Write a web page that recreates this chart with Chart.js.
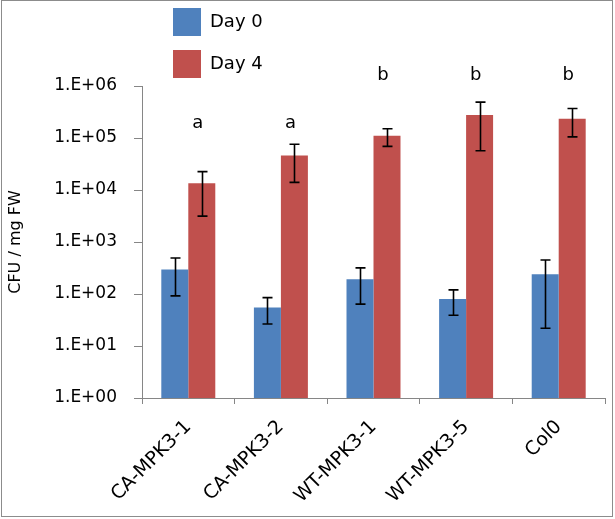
<!DOCTYPE html>
<html>
<head>
<meta charset="utf-8">
<script src="https://cdn.jsdelivr.net/npm/chart.js@4/dist/chart.umd.min.js"></script>
<style>
  html, body { margin: 0; padding: 0; background: #fff; }
  #wrap { width: 615px; height: 519px; position: relative; }
</style>
</head>
<body>
<div id="wrap"><canvas id="c" width="615" height="519"></canvas></div>
<script>
// ---- data ----
const categories = ['CA-MPK3-1', 'CA-MPK3-2', 'WT-MPK3-1', 'WT-MPK3-5', 'Col0'];
const seriesNames = ['Day 0', 'Day 4'];
const day0 = [295, 55, 193, 80, 240];
const day0Hi = [493, 85, 318, 120, 452];
const day0Lo = [92, 26.5, 64, 39, 22];
const day4 = [13500, 45900, 110000, 276000, 234000];
const day4Hi = [22600, 75600, 151000, 490000, 370000];
const day4Lo = [3150, 14000, 69000, 57000, 105000];
const sigLetters = ['a', 'a', 'b', 'b', 'b'];
const sigLevel = [157000, 157000, 1310000, 1310000, 1310000];
const yTickValues = [1, 10, 100, 1000, 10000, 100000, 1000000];
const yTickLabels = ['1.E+00', '1.E+01', '1.E+02', '1.E+03', '1.E+04', '1.E+05', '1.E+06'];

const FONT = "'DejaVu Sans', sans-serif";
const AXIS_GRAY = '#868686';
const colors = ['#4F81BD', '#C0504D'];
const errLo = [day0Lo, day4Lo];
const errHi = [day0Hi, day4Hi];

const errorBarPlugin = {
  id: 'errorBars',
  afterDatasetsDraw(chart) {
    const ctx = chart.ctx;
    const y = chart.scales.y;
    ctx.save();
    ctx.strokeStyle = '#000';
    ctx.lineWidth = 1.6;
    chart.data.datasets.forEach((ds, i) => {
      const meta = chart.getDatasetMeta(i);
      meta.data.forEach((el, j) => {
        const x = Math.round(el.x) + 0.5;
        const yt = y.getPixelForValue(errHi[i][j]);
        const yb = y.getPixelForValue(errLo[i][j]);
        ctx.beginPath();
        ctx.moveTo(x, yt); ctx.lineTo(x, yb);
        ctx.moveTo(x - 5, yt); ctx.lineTo(x + 5, yt);
        ctx.moveTo(x - 5, yb); ctx.lineTo(x + 5, yb);
        ctx.stroke();
      });
    });
    ctx.restore();
  }
};

const lettersPlugin = {
  id: 'sigLetters',
  afterDatasetsDraw(chart) {
    const ctx = chart.ctx;
    const y = chart.scales.y;
    const meta = chart.getDatasetMeta(1);
    ctx.save();
    ctx.fillStyle = '#000';
    ctx.font = '18px ' + FONT;
    ctx.textAlign = 'center';
    ctx.textBaseline = 'alphabetic';
    meta.data.forEach((el, j) => {
      ctx.fillText(sigLetters[j], el.x - 4, y.getPixelForValue(sigLevel[j]));
    });
    ctx.restore();
  }
};

const legendPlugin = {
  id: 'boxLegend',
  afterDraw(chart) {
    const ctx = chart.ctx;
    ctx.save();
    ctx.font = '18px ' + FONT;
    ctx.textBaseline = 'middle';
    ctx.textAlign = 'left';
    chart.data.datasets.forEach((ds, i) => {
      const top = 8 + i * 42;
      ctx.fillStyle = ds.backgroundColor;
      ctx.fillRect(173, top, 28, 28);
      ctx.fillStyle = '#000';
      ctx.fillText(ds.label, 210, top + 14);
    });
    // outer frame
    ctx.strokeStyle = '#8c8c8c';
    ctx.lineWidth = 1;
    ctx.strokeRect(1.5, 0.5, 611, 516);
    ctx.restore();
  }
};

new Chart(document.getElementById('c'), {
  type: 'bar',
  data: {
    labels: categories,
    datasets: [
      { label: seriesNames[0], data: day0, backgroundColor: colors[0] },
      { label: seriesNames[1], data: day4, backgroundColor: colors[1] }
    ]
  },
  options: {
    responsive: false,
    animation: false,
    devicePixelRatio: 1,
    layout: { padding: { top: 86, right: 10, left: 0, bottom: 0 } },
    datasets: { bar: { categoryPercentage: 0.583, barPercentage: 1.0 } },
    plugins: { legend: { display: false }, tooltip: { enabled: false } },
    scales: {
      x: {
        afterFit(axis) { axis.height = 121; },
        grid: { display: true, drawOnChartArea: false, drawTicks: true, tickLength: 6, color: AXIS_GRAY, offset: true },
        border: { display: true, color: AXIS_GRAY, width: 1 },
        ticks: { color: '#000', font: { family: FONT, size: 19 }, maxRotation: 45, minRotation: 45, padding: 12, autoSkip: false }
      },
      y: {
        type: 'logarithmic',
        min: 1,
        max: 1000000,
        afterFit(axis) { axis.width = 142; },
        afterBuildTicks(axis) { axis.ticks = yTickValues.map(v => ({ value: v, major: false })); },
        grid: { display: true, drawOnChartArea: false, drawTicks: true, tickLength: 8, color: AXIS_GRAY },
        border: { display: true, color: AXIS_GRAY, width: 1 },
        ticks: {
          color: '#000',
          font: { family: FONT, size: 17 },
          padding: 17,
          callback(value) {
            const k = yTickValues.indexOf(value);
            return k >= 0 ? yTickLabels[k] : '';
          }
        },
        title: { display: true, text: 'CFU / mg FW', color: '#000', font: { family: FONT, size: 16 }, padding: { top: 6, bottom: 0 } }
      }
    }
  },
  plugins: [errorBarPlugin, lettersPlugin, legendPlugin]
});
</script>
</body>
</html>
